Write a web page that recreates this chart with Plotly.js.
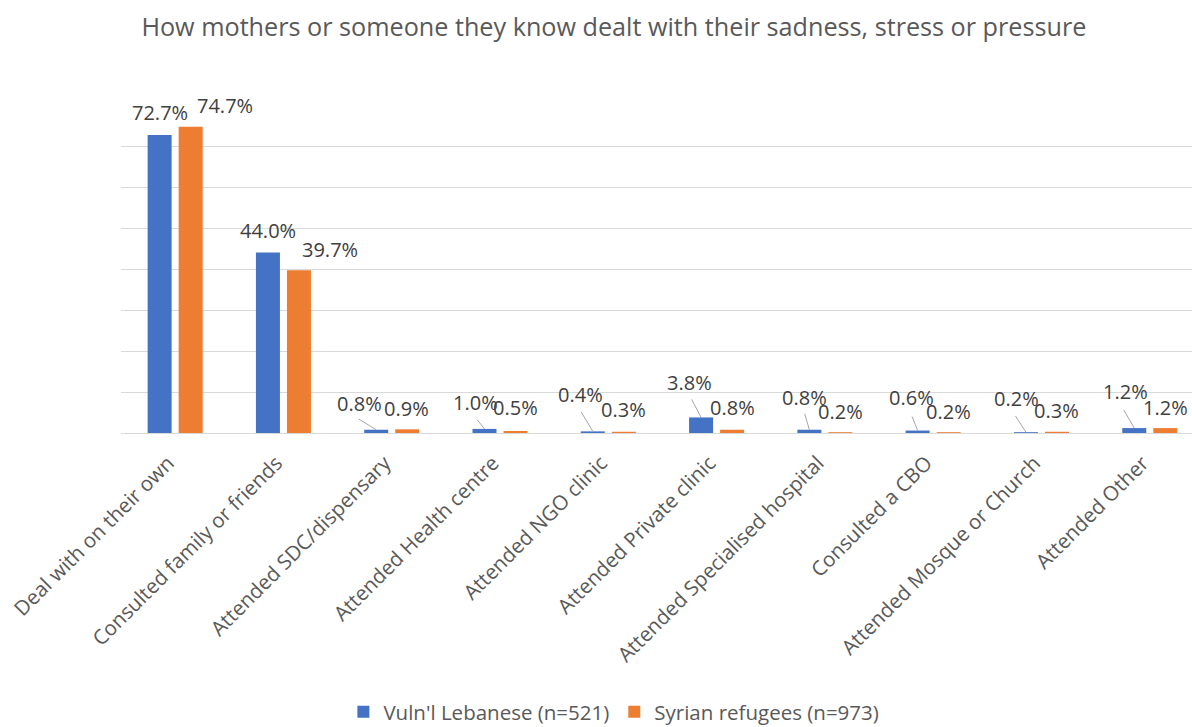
<!DOCTYPE html>
<html>
<head>
<meta charset="utf-8">
<script src="https://cdn.plot.ly/plotly-3.0.1.min.js"></script>
<style>html,body{margin:0;padding:0;background:#fff;}#chart{width:1192px;height:727px;}</style>
</head>
<body>
<div id="chart"></div>
<script>
// ---- data ----
const categories = [
  "Deal with on their own",
  "Consulted family or friends",
  "Attended SDC/dispensary",
  "Attended Health centre",
  "Attended NGO clinic",
  "Attended Private clinic",
  "Attended Specialised hospital",
  "Consulted a CBO",
  "Attended Mosque or Church",
  "Attended Other"
];
const lebanese = [72.7, 44.0, 0.8, 1.0, 0.4, 3.8, 0.8, 0.6, 0.2, 1.2];
const syrian = [74.7, 39.7, 0.9, 0.5, 0.3, 0.8, 0.2, 0.2, 0.3, 1.2];
const seriesNames = ["Vuln'l Lebanese (n=521)", "Syrian refugees (n=973)"];
const chartTitle = "How mothers or someone they know dealt with their sadness, stress or pressure";

// ---- label placement (pixel offsets from bar top) ----
const lebLabelDx = [0, 0, -17, -9, -12, -12, -5, -6, -9, -9];
const lebLabelDy = [-22, -22, -26, -26, -37, -35, -32, -33, -34, -37];
// leader line tail offsets (null = no leader line)
const lebLeaderDx = [null, null, -18, -8, -12, -10, -5, -6, -11, -11];
const lebLeaderDy = [null, null, -11, -10, -20, -19, -17, -15, -17, -19];
const syrLabelDx = [34, 31, -1, 0, 0, 0, 0, 0, 0, 0];
const syrLabelDy = [-21, -21, -21, -23, -22, -22, -21, -21, -21, -21];

const BLUE = "#4472C4", ORANGE = "#ED7D31";
const bargap = 0.427;
const half = (1 - bargap) / 4;
const FONT = "Open Sans, sans-serif";

const fmt = v => v.toFixed(1) + "%";
const annotations = [];
function addLabels(vals, sign, dx, dy) {
  vals.forEach((v, i) => {
    annotations.push({
      x: i + sign * half, y: v, xref: "x", yref: "y",
      text: fmt(v),
      showarrow: true, ax: dx[i], ay: dy[i],
      arrowhead: 0, arrowwidth: 1, arrowcolor: "rgba(0,0,0,0)",
      standoff: 0, borderpad: 0,
      font: {family: FONT, size: 20, color: "#404040"}
    });
  });
}
function addLeaders(vals, sign, dx, dy) {
  vals.forEach((v, i) => {
    if (dx[i] === null) return;
    annotations.push({
      x: i + sign * half, y: v, xref: "x", yref: "y",
      text: " ", showarrow: true, ax: dx[i], ay: dy[i],
      arrowhead: 0, arrowwidth: 1, arrowcolor: "#A6A6A6",
      standoff: 0, borderpad: 0,
      font: {family: FONT, size: 1, color: "rgba(0,0,0,0)"}
    });
  });
}
addLeaders(lebanese, -1, lebLeaderDx, lebLeaderDy);
addLabels(lebanese, -1, lebLabelDx, lebLabelDy);
addLabels(syrian, 1, syrLabelDx, syrLabelDy);

const traces = [
  {type: "bar", name: seriesNames[0], x: categories, y: lebanese, marker: {color: BLUE}, hoverinfo: "skip"},
  {type: "bar", name: seriesNames[1], x: categories, y: syrian, marker: {color: ORANGE}, hoverinfo: "skip"}
];

const layout = {
  width: 1192, height: 727,
  margin: {l: 121, r: 0, t: 105, b: 294, pad: 0, autoexpand: false},
  paper_bgcolor: "#fff", plot_bgcolor: "#fff",
  font: {family: FONT, color: "#595959"},
  title: {text: chartTitle, x: 0.515, xref: "container", y: 1 - 27/727, yref: "container", xanchor: "center", yanchor: "middle",
          font: {family: FONT, size: 25.2, color: "#595959"}},
  barmode: "group", bargap: bargap, bargroupgap: 0.226,
  xaxis: {type: "category", range: [-0.5, 9.39], tickangle: -45, showgrid: false, showline: true, linecolor: "#D9D9D9", linewidth: 1,
          ticks: "", tickfont: {family: FONT, size: 20.5, color: "#595959"}, fixedrange: true, ticklabelstandoff: 9, ticklabelshift: -7},
  yaxis: {range: [0, 80], dtick: 10, showgrid: true, gridcolor: "#D9D9D9", gridwidth: 1, showticklabels: false, zeroline: false, ticks: "", fixedrange: true},
  showlegend: true,
  legend: {orientation: "h", xref: "container", yref: "paper", x: 0.515, y: -(712 - 433) / 328, xanchor: "center", yanchor: "middle",
           font: {family: FONT, size: 20.5, color: "#595959"}, itemwidth: 30, traceorder: "normal"},
  annotations: annotations
};

Plotly.newPlot("chart", traces, layout, {displayModeBar: false, staticPlot: true});
</script>
</body>
</html>
